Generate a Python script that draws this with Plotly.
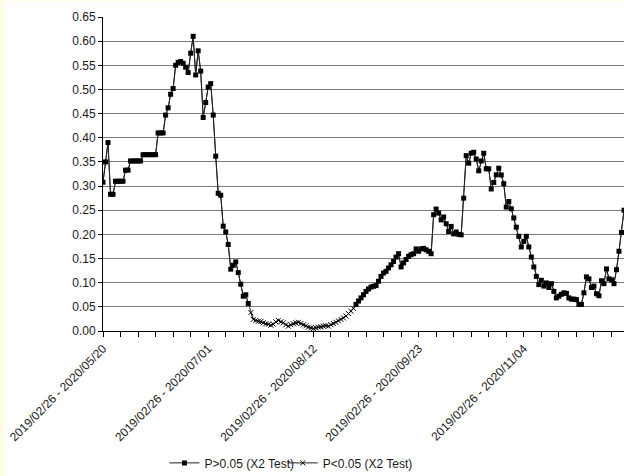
import plotly.graph_objects as go
import pandas as pd

# P value per day, first day 2020/05/20
p_values = [
    0.308, 0.350, 0.390, 0.283, 0.283, 0.310, 0.310, 0.310, 0.310, 0.333,
    0.333, 0.352, 0.352, 0.352, 0.352, 0.352, 0.365, 0.365, 0.365, 0.365,
    0.365, 0.365, 0.410, 0.410, 0.410, 0.447, 0.462, 0.490, 0.502, 0.550,
    0.556, 0.558, 0.554, 0.546, 0.535, 0.575, 0.610, 0.530, 0.580, 0.538,
    0.442, 0.473, 0.505, 0.512, 0.447, 0.362, 0.285, 0.281, 0.217, 0.205,
    0.179, 0.128, 0.136, 0.143, 0.121, 0.097, 0.072, 0.075, 0.057, 0.038,
    0.024, 0.022, 0.020, 0.0195, 0.017, 0.015, 0.014, 0.012, 0.014, 0.019,
    0.022, 0.019, 0.017, 0.013, 0.010, 0.013, 0.015, 0.017, 0.018, 0.0155,
    0.0127, 0.0107, 0.008, 0.0066, 0.0052, 0.0066, 0.008, 0.0086, 0.010, 0.011,
    0.010, 0.013, 0.0155, 0.018, 0.021, 0.024, 0.027, 0.031, 0.036, 0.041,
    0.047, 0.055, 0.062, 0.0685, 0.075, 0.082, 0.087, 0.091, 0.0926, 0.094,
    0.103, 0.113, 0.120, 0.1235, 0.1306, 0.137, 0.144, 0.153, 0.160, 0.1326,
    0.141, 0.148, 0.1546, 0.158, 0.160, 0.170, 0.165, 0.170, 0.171, 0.168,
    0.165, 0.160, 0.2407, 0.2524, 0.244, 0.230, 0.236, 0.222, 0.206, 0.2165,
    0.201, 0.205, 0.200, 0.199, 0.275, 0.363, 0.3475, 0.368, 0.370, 0.356,
    0.3316, 0.352, 0.368, 0.3357, 0.3357, 0.294, 0.3075, 0.3233, 0.337, 0.323,
    0.305, 0.2566, 0.268, 0.253, 0.234, 0.215, 0.196, 0.174, 0.1855, 0.196,
    0.174, 0.153, 0.1326, 0.113, 0.096, 0.105, 0.093, 0.0995, 0.090, 0.098,
    0.082, 0.0685, 0.072, 0.076, 0.079, 0.078, 0.0685, 0.066, 0.066, 0.065,
    0.055, 0.055, 0.079, 0.112, 0.108, 0.090, 0.093, 0.077, 0.073, 0.104,
    0.098, 0.1285, 0.108, 0.106, 0.098, 0.127, 0.165, 0.204, 0.250,
]

first_day = "2020-05-20"
period_start = "2019/02/26"
days = pd.date_range(first_day, periods=len(p_values), freq="D")
categories = [f"{period_start} - {d.strftime('%Y/%m/%d')}" for d in days]

tick_step = 7
tick_labels = [
    "2019/02/26 - 2020/05/20",
    "2019/02/26 - 2020/07/01",
    "2019/02/26 - 2020/08/12",
    "2019/02/26 - 2020/09/23",
    "2019/02/26 - 2020/11/04",
]

threshold = 0.05
high_series = [v if v >= threshold else None for v in p_values]
low_series = [v if v < threshold else None for v in p_values]

tickvals = categories[::tick_step]
ticktext = [c if c in tick_labels else "" for c in tickvals]

fig = go.Figure()
fig.add_trace(go.Scatter(
    x=categories, y=p_values, mode="lines",
    line=dict(color="#222222", width=1), showlegend=False, hoverinfo="skip",
))
fig.add_trace(go.Scatter(
    x=categories, y=high_series, mode="lines+markers", name="P>0.05 (X2 Test)",
    line=dict(color="#222222", width=1),
    marker=dict(symbol="square", size=5, color="#000000"),
    connectgaps=False, legend="legend",
))
fig.add_trace(go.Scatter(
    x=categories, y=low_series, mode="lines+markers", name="P<0.05 (X2 Test)",
    line=dict(color="#222222", width=1),
    marker=dict(symbol="x-thin", size=5, color="#000000",
                line=dict(color="#000000", width=1)),
    connectgaps=False, legend="legend2",
))

legend_style = dict(orientation="h", y=-0.42, xanchor="left", yanchor="middle",
                    font=dict(size=12), bgcolor="rgba(0,0,0,0)", itemwidth=30)

fig.update_layout(
    width=624, height=476,
    margin=dict(l=103, r=0, t=17, b=145, autoexpand=False),
    paper_bgcolor="#FFFDE7",
    plot_bgcolor="#FFFFFF",
    font=dict(family="Liberation Sans, Arial, sans-serif", size=12, color="#1a1a1a"),
    shapes=[dict(type="rect", xref="paper", yref="paper",
                 x0=-98 / 521, x1=1.0, y0=-145 / 314, y1=1 + 16 / 314,
                 fillcolor="#FFFFFF", line=dict(width=0), layer="below")],
    legend=dict(x=0.118, **legend_style),
    legend2=dict(x=0.345, **legend_style),
    xaxis=dict(
        type="category", range=[0, len(p_values) - 1], automargin=False,
        tickmode="array", tickvals=tickvals, ticktext=ticktext,
        tickangle=-45, ticks="outside", ticklen=5, tickcolor="#000000",
        showgrid=False, showline=True, linecolor="#000000", linewidth=1,
        zeroline=False,
    ),
    yaxis=dict(
        range=[0, 0.65], dtick=0.05, tick0=0, tickformat=".2f", automargin=False,
        ticks="outside", ticklen=4, tickcolor="#000000",
        showgrid=True, gridcolor="#7a7a7a", gridwidth=1,
        showline=True, linecolor="#000000", linewidth=1, zeroline=False,
    ),
)

fig.write_html(
    "out.html",
    config={"displayModeBar": False},
    post_script="document.body.style.margin='0';document.body.style.background='#FFFDE7';",
)
